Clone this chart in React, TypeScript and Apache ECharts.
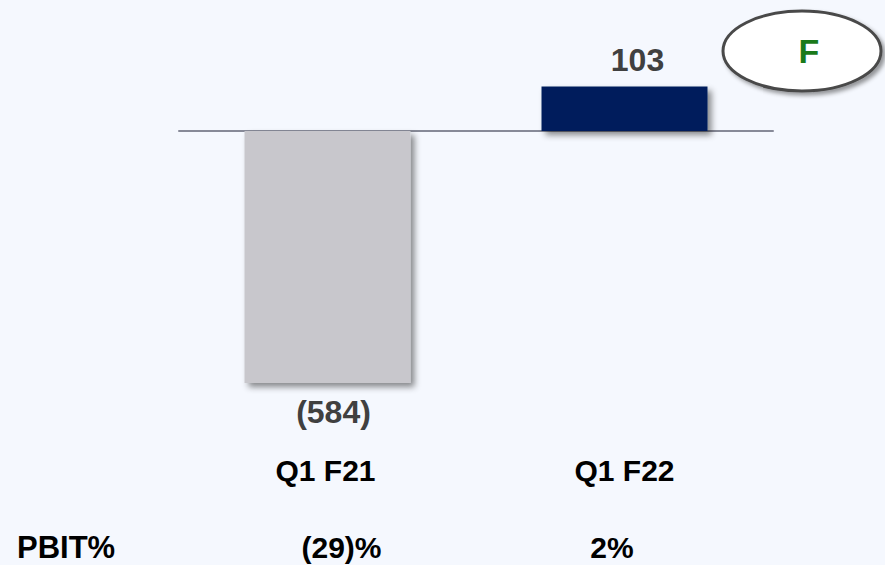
import React, { useEffect, useRef } from "react";
import * as echarts from "echarts";

const categories = ["Q1 F21", "Q1 F22"];
const pbitValues = [-584, 103];
const barColors = ["#c8c7cc", "#001f5c"];
const pbitPctLabels = ["(29)%", "2%"];
const rowTitle = "PBIT%";
const badgeText = "F";

const FONT = "'Liberation Sans', Arial, Helvetica, sans-serif";

export default function App() {
  const ref = useRef<HTMLDivElement>(null);
  useEffect(() => {
    if (!ref.current) return;
    const chart = echarts.init(ref.current, null, { renderer: "svg" });
    const fmt = (v: number) => (v < 0 ? `(${Math.abs(v)})` : `${v}`);
    chart.setOption({
      animation: false,
      backgroundColor: "#f5f8fe",
      grid: { left: 179, width: 594, top: 44.7, height: 388.36, containLabel: false },
      xAxis: [
        {
          type: "category",
          data: categories,
          axisLine: { onZero: true, lineStyle: { color: "#878a98", width: 2 } },
          axisTick: { show: false },
          axisLabel: { show: false },
        },
        {
          type: "category",
          data: categories,
          position: "bottom",
          axisLine: { show: false },
          axisTick: { show: false },
          axisLabel: {
            margin: 22,
            formatter: (v: string, i: number) => `{c${i}|${v}}`,
            rich: {
              c0: { fontFamily: FONT, fontWeight: "bold", fontSize: 30, color: "#000", padding: [0, 4, 0, 0] },
              c1: { fontFamily: FONT, fontWeight: "bold", fontSize: 30, color: "#000" },
            },
          },
        },
        {
          type: "category",
          data: pbitPctLabels,
          position: "bottom",
          offset: 80,
          axisLine: { show: false },
          axisTick: { show: false },
          axisLabel: {
            margin: 19,
            formatter: (v: string, i: number) => `{p${i}|${v}}`,
            rich: {
              p0: { fontFamily: FONT, fontWeight: "bold", fontSize: 30, lineHeight: 30, color: "#000", padding: [0, 0, 0, 28] },
              p1: { fontFamily: FONT, fontWeight: "bold", fontSize: 30, lineHeight: 30, color: "#000", padding: [0, 25, 0, 0] },
            },
          },
        },
      ],
      yAxis: {
        type: "value",
        min: -700,
        max: 200,
        show: false,
        splitLine: { show: false },
      },
      series: [
        {
          type: "bar",
          xAxisIndex: 0,
          barWidth: 166,
          data: pbitValues.map((v, i) => ({
            value: v,
            itemStyle: {
              color: barColors[i],
              shadowColor: "rgba(0,0,0,0.45)",
              shadowBlur: 6,
              shadowOffsetX: 4,
              shadowOffsetY: 4,
            },
            label: {
              show: true,
              position: v < 0 ? "bottom" : "top",
              distance: v < 0 ? 13 : 11,
              offset: v < 0 ? [6, 0] : [13, 0],
            },
          })),
          label: {
            fontFamily: FONT,
            fontWeight: "bold",
            fontSize: 32,
            color: "#404040",
            formatter: (p: any) => fmt(p.value),
          },
        },
      ],
      graphic: [
        {
          type: "text",
          x: 17,
          y: 547.5,
          style: { text: rowTitle, font: `bold 31px ${FONT}`, fill: "#000", verticalAlign: "middle", lineHeight: 30 },
        },
        {
          type: "ellipse",
          shape: { cx: 802, cy: 51, rx: 79, ry: 40 },
          style: {
            fill: "#ffffff",
            stroke: "#4a4a4a",
            lineWidth: 3,
            shadowColor: "rgba(0,0,0,0.4)",
            shadowBlur: 4,
            shadowOffsetX: 3,
            shadowOffsetY: 3,
          },
        },
        {
          type: "text",
          x: 809,
          y: 51,
          style: {
            text: badgeText,
            font: `bold 34px ${FONT}`,
            fill: "#1a7a1a",
            align: "center",
            verticalAlign: "middle",
          },
        },
      ],
    });
    return () => chart.dispose();
  }, []);
  return (
    <div
      ref={ref}
      style={{ position: "fixed", left: 0, top: 0, width: 885, height: 565 }}
    />
  );
}
